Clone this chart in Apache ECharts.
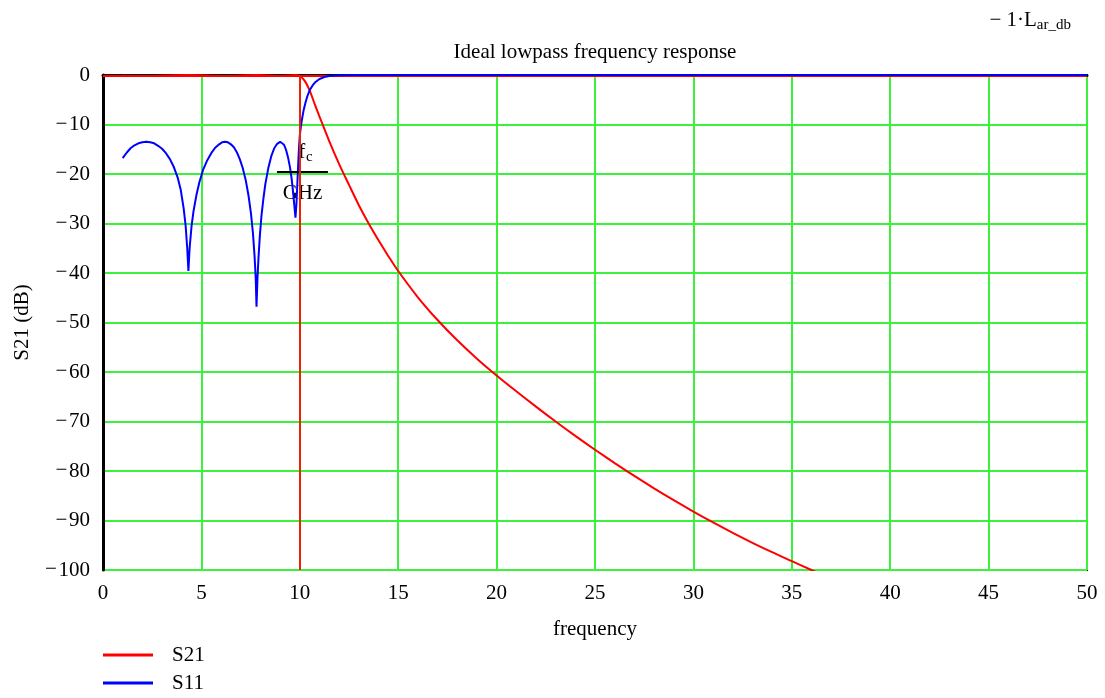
<!DOCTYPE html>
<html>
<head>
<meta charset="utf-8">
<script src="https://cdn.jsdelivr.net/npm/echarts@6/dist/echarts.min.js"></script>
<style>
  html, body { margin: 0; padding: 0; background: #fff; }
  #chart { width: 1105px; height: 698px; }
</style>
</head>
<body>
<div id="chart"></div>
<script>
// S21 (insertion), dB vs frequency
var s21Freq = [1, 2.2, 4.3, 6.2, 7.8, 9, 9.8, 10, 10.25, 10.5, 10.75, 11, 11.5, 12, 12.5, 13, 13.5, 14, 14.5, 15,
  16, 17, 18, 19, 20, 21, 22, 23, 24, 25, 26, 27, 28, 29, 30, 31, 32, 33, 34, 35, 36, 37]
var s21Db = [-0.15, -0.2, 0, -0.2, 0, -0.2, 0, -0.2, -1.2, -3.1, -5.8, -8.4, -13.4, -18, -22.2, -26.3, -30, -33.4, -36.6, -39.6,
  -44.9, -49.5, -53.6, -57.3, -60.7, -63.9, -67, -70, -72.9, -75.7, -78.4, -81, -83.5, -85.9, -88.2, -90.4, -92.5, -94.5, -96.4, -98.2, -100, -101.8]

// S11 (return loss)
var s11Freq = [1, 1.2, 1.4, 1.6, 1.8, 2, 2.2, 2.4, 2.6, 2.8, 3, 3.2, 3.4, 3.6, 3.8, 3.95, 4.1, 4.2, 4.28, 4.34,
  4.4, 4.5, 4.6, 4.75, 4.9, 5.1, 5.3, 5.5, 5.7, 5.9, 6.05, 6.2, 6.35, 6.5, 6.65, 6.8, 6.95, 7.1, 7.25, 7.4, 7.52, 7.62, 7.7, 7.76, 7.8,
  7.85, 7.9, 7.97, 8.05, 8.15, 8.25, 8.4, 8.55, 8.7, 8.85, 9, 9.1, 9.2, 9.3, 9.4, 9.5, 9.58, 9.65, 9.72, 9.78,
  9.83, 9.88, 9.93, 9.97, 10, 10.05, 10.1, 10.2, 10.3, 10.4, 10.5, 10.65, 10.8, 11, 11.25, 11.5, 12, 13, 15, 50]
var s11Db = [-16.8, -15.7, -14.8, -14.2, -13.8, -13.6, -13.5, -13.6, -13.8, -14.3, -14.9, -15.8, -17, -18.6, -20.8, -23.2, -27, -30.5, -35, -39.6,
  -35, -30.5, -27.5, -24.2, -21.6, -19, -17.2, -15.8, -14.7, -14, -13.6, -13.5, -13.6, -14, -14.6, -15.6, -17, -18.8, -21.2, -24.5, -28, -32, -36.5, -41, -46.8,
  -41, -37, -32.5, -28.5, -25, -22, -18.8, -16.4, -14.8, -13.9, -13.5, -13.6, -14.1, -15.1, -16.6, -18.6, -20.8, -23.3, -26.3, -28.8,
  -26, -21.5, -17, -14, -12.2, -10.6, -9.2, -7, -5.4, -4.1, -3.1, -2.1, -1.4, -0.8, -0.4, -0.2, -0.07, -0.02, 0, 0]

// -1·L_ar_db trace (passband ripple level)
var larFreq = [0, 50]
var larDb = [-0.2, -0.2]

// cutoff marker fc/GHz
var fcGHz = [10]
var fcBarFreq = [8.84, 11.43]
var fcBarDb = [-19.6, -19.6]

var xTicks = [0, 5, 10, 15, 20, 25, 30, 35, 40, 45, 50]
var yTicks = [0, -10, -20, -30, -40, -50, -60, -70, -80, -90, -100]

function pairs(xs, ys) {
  return xs.map(function (x, i) { return [x, ys[i]] })
}

var font = 'Liberation Serif'
var chart = echarts.init(document.getElementById('chart'))

chart.setOption({
  animation: false,
  backgroundColor: '#fff',
  textStyle: { fontFamily: font, color: '#000' },
  grid: {
    left: 103,
    right: 18,
    top: 75,
    bottom: 128,
    show: true,
    borderColor: '#000',
    borderWidth: 2
  },
  legend: {
    data: ['S21', 'S11'],
    orient: 'vertical',
    left: 103,
    top: 644,
    padding: 0,
    itemWidth: 50,
    itemHeight: 3,
    itemGap: 6,
    icon: 'rect',
    textStyle: { fontFamily: font, fontSize: 21, lineHeight: 22, color: '#000', padding: [0, 0, 0, 14] }
  },
  xAxis: {
    type: 'value',
    min: xTicks[0],
    max: xTicks[xTicks.length - 1],
    interval: 5,
    name: 'frequency',
    nameLocation: 'middle',
    nameGap: 49,
    nameTextStyle: { fontFamily: font, fontSize: 21, color: '#000' },
    axisLine: { lineStyle: { color: '#000', width: 3 } },
    axisTick: { show: false },
    axisLabel: { fontFamily: font, fontSize: 21, color: '#000', margin: 13 },
    splitLine: { lineStyle: { color: '#3cf03c', width: 2 } }
  },
  yAxis: {
    type: 'value',
    min: yTicks[yTicks.length - 1],
    max: yTicks[0],
    interval: 10,
    name: 'S21 (dB)',
    nameLocation: 'middle',
    nameGap: 70,
    nameTextStyle: { fontFamily: font, fontSize: 21, color: '#000' },
    axisLine: { lineStyle: { color: '#000', width: 3 } },
    axisTick: { show: false },
    axisLabel: {
      fontFamily: font, fontSize: 21, color: '#000', margin: 13,
      // Mathcad draws a raised minus sign
      formatter: function (v) { return v < 0 ? '{m|\u2212\u200a}{d|' + Math.abs(v) + '}' : '{d|' + v + '}' },
      rich: {
        m: { fontFamily: font, fontSize: 21, lineHeight: 14, verticalAlign: 'top', color: '#000' },
        d: { fontFamily: font, fontSize: 21, lineHeight: 22, color: '#000' }
      }
    },
    splitLine: { lineStyle: { color: '#3cf03c', width: 2 } }
  },
  series: [
    {
      name: 'lar',
      type: 'line',
      data: pairs(larFreq, larDb),
      symbol: 'none',
      lineStyle: { color: '#ff0000', width: 2 },
      silent: true
    },
    {
      name: 'S21',
      type: 'line',
      data: pairs(s21Freq, s21Db),
      symbol: 'none',
      smooth: 0.3,
      color: '#ff0000',
      lineStyle: { color: '#ff0000', width: 2 },
      markLine: {
        silent: true,
        symbol: 'none',
        label: { show: false },
        lineStyle: { color: '#ee2200', width: 2, type: 'solid' },
        data: fcGHz.map(function (f) { return { xAxis: f } })
      }
    },
    {
      name: 'S11',
      type: 'line',
      data: pairs(s11Freq, s11Db),
      symbol: 'none',
      color: '#0000ff',
      lineStyle: { color: '#0000ff', width: 2 }
    },
    {
      name: 'fcbar',
      type: 'line',
      data: pairs(fcBarFreq, fcBarDb),
      symbol: 'none',
      lineStyle: { color: '#000', width: 2 },
      silent: true
    }
  ]
})

// place the fc/GHz fraction labels around the bar
var barMid = chart.convertToPixel({ gridIndex: 0 }, [(fcBarFreq[0] + fcBarFreq[1]) / 2, fcBarDb[0]])
var plotCenter = chart.convertToPixel({ gridIndex: 0 }, [25, 0])

chart.setOption({
  graphic: [
    {
      type: 'text',
      x: plotCenter[0],
      y: 52,
      style: {
        text: 'Ideal lowpass frequency response',
        font: '21px "Liberation Serif"',
        fill: '#000',
        align: 'center',
        verticalAlign: 'middle'
      }
    },
    {
      type: 'text',
      x: barMid[0] + 3,
      y: barMid[1] - 7,
      style: {
        text: '{f|f}{s|c}',
        rich: {
          f: { font: '21px "Liberation Serif"', fill: '#000' },
          s: { font: '15px "Liberation Serif"', fill: '#000', padding: [10, 0, 0, 1] }
        },
        align: 'center',
        verticalAlign: 'bottom'
      }
    },
    {
      type: 'text',
      x: barMid[0],
      y: barMid[1] + 21,
      style: {
        text: 'GHz',
        font: '21px "Liberation Serif"',
        fill: '#000',
        align: 'center',
        verticalAlign: 'middle'
      }
    },
    {
      type: 'text',
      right: 34,
      top: 10,
      style: {
        text: '{m|\u2212 1\u00b7L}{s|ar_db}',
        rich: {
          m: { font: '21px "Liberation Serif"', fill: '#000' },
          s: { font: '15px "Liberation Serif"', fill: '#000', padding: [10, 0, 0, 0] }
        }
      }
    }
  ]
})
</script>
</body>
</html>
